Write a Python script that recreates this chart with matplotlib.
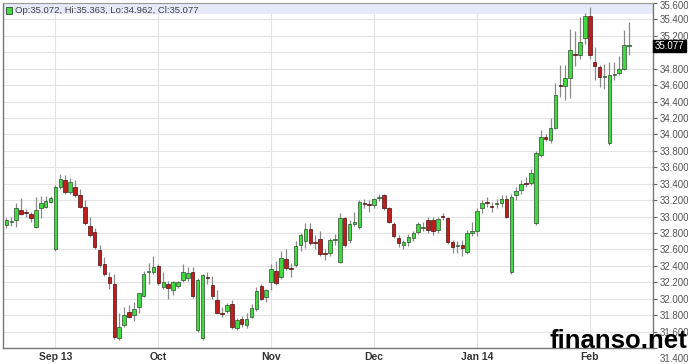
import numpy as np
import matplotlib
matplotlib.use("Agg")
import matplotlib.pyplot as plt
from matplotlib.patches import Rectangle
from matplotlib.transforms import blended_transform_factory, ScaledTranslation

plt.rcParams["font.family"] = ["Liberation Sans", "DejaVu Sans"]

# daily candles, mid Aug 2013 .. mid Feb 2014
opens = [32.90, 32.94, 32.96, 33.08, 33.05, 33.03, 32.87, 33.10, 33.12, 33.18,
         32.60, 33.36, 33.44, 33.30, 33.36, 33.26, 33.12, 32.88, 32.81, 32.59,
         32.42, 32.27, 32.18, 31.52, 31.68, 31.84, 31.80, 31.90, 32.03, 32.32,
         32.32, 32.40, 32.14, 32.18, 32.10, 32.15, 32.23, 32.25, 32.32, 31.62,
         31.52, 32.26, 32.17, 31.99, 31.82, 31.85, 31.93, 31.64, 31.75, 31.68,
         31.78, 31.87, 32.15, 32.02, 32.20, 32.34, 32.26, 32.48, 32.37, 32.41,
         32.65, 32.70, 32.85, 32.69, 32.73, 32.55, 32.56, 32.71, 32.45, 32.98,
         32.71, 32.91, 32.87, 33.16, 33.15, 33.14, 33.23, 33.26, 33.10, 32.91,
         32.74, 32.65, 32.69, 32.74, 32.81, 32.86, 32.96, 32.96, 32.84, 33.00,
         32.98, 32.69, 32.64, 32.66, 32.57, 32.80, 32.82, 33.10, 33.18, 33.13,
         33.15, 33.16, 33.21, 32.32, 33.26, 33.32, 33.41, 33.41, 32.92, 33.75,
         33.97, 33.93, 34.08, 34.60, 34.59, 34.69, 34.98, 34.97, 35.17, 35.44,
         34.88, 34.82, 34.70, 33.89, 34.72, 34.75, 34.80, 35.072]
highs = [32.98, 33.00, 33.16, 33.23, 33.09, 33.06, 33.24, 33.25, 33.25, 33.25,
         33.38, 33.52, 33.50, 33.47, 33.44, 33.33, 33.20, 33.00, 32.86, 32.66,
         32.51, 32.32, 32.30, 31.82, 31.90, 31.92, 31.96, 32.07, 32.34, 32.44,
         32.52, 32.42, 32.32, 32.22, 32.22, 32.22, 32.42, 32.38, 32.39, 32.25,
         32.30, 32.32, 32.28, 32.10, 31.90, 31.95, 31.98, 31.77, 31.79, 31.82,
         31.94, 32.14, 32.18, 32.12, 32.42, 32.46, 32.58, 32.60, 32.44, 32.70,
         32.80, 32.92, 32.92, 32.78, 32.82, 32.61, 32.74, 32.79, 33.04, 33.00,
         32.96, 33.06, 33.20, 33.21, 33.20, 33.23, 33.27, 33.28, 33.12, 32.94,
         32.78, 32.71, 32.79, 32.83, 32.94, 32.93, 33.00, 32.99, 33.00, 33.04,
         33.00, 32.72, 32.70, 32.72, 32.84, 32.94, 33.10, 33.20, 33.24, 33.18,
         33.22, 33.26, 33.26, 33.28, 33.36, 33.45, 33.48, 33.58, 33.80, 34.05,
         34.00, 34.20, 34.63, 34.84, 34.84, 35.28, 35.26, 35.43, 35.48, 35.55,
         35.06, 34.85, 34.86, 34.88, 34.88, 34.96, 35.27, 35.363]
lows = [32.86, 32.88, 32.87, 33.02, 33.00, 32.94, 32.86, 32.98, 33.10, 33.16,
        32.58, 33.34, 33.28, 33.28, 33.24, 33.10, 32.90, 32.75, 32.60, 32.39,
        32.28, 32.12, 31.51, 31.50, 31.66, 31.76, 31.73, 31.83, 32.02, 32.18,
        32.30, 32.17, 32.12, 32.00, 32.04, 32.13, 32.20, 32.22, 32.01, 31.60,
        31.50, 32.18, 32.00, 31.82, 31.78, 31.83, 31.63, 31.62, 31.66, 31.64,
        31.76, 31.85, 31.98, 31.96, 32.10, 32.17, 32.24, 32.35, 32.26, 32.39,
        32.58, 32.62, 32.66, 32.60, 32.52, 32.47, 32.52, 32.66, 32.44, 32.63,
        32.68, 32.88, 32.85, 33.10, 33.06, 33.10, 33.19, 33.08, 32.92, 32.74,
        32.63, 32.60, 32.64, 32.70, 32.79, 32.82, 32.80, 32.78, 32.80, 32.96,
        32.67, 32.56, 32.56, 32.52, 32.55, 32.76, 32.76, 33.04, 33.12, 33.06,
        33.10, 33.12, 32.98, 32.30, 33.20, 33.28, 33.36, 33.38, 32.90, 33.72,
        33.92, 33.90, 34.06, 34.45, 34.42, 34.44, 34.83, 34.92, 35.10, 34.92,
        34.66, 34.58, 34.55, 33.87, 34.66, 34.72, 34.78, 34.962]
closes = [32.96, 32.95, 33.10, 33.03, 33.04, 32.98, 33.08, 33.16, 33.19, 33.23,
          33.36, 33.46, 33.30, 33.42, 33.26, 33.12, 32.92, 32.77, 32.63, 32.41,
          32.30, 32.19, 31.53, 31.65, 31.80, 31.78, 31.88, 32.07, 32.30, 32.32,
          32.38, 32.19, 32.20, 32.13, 32.20, 32.20, 32.32, 32.31, 32.03, 32.23,
          32.29, 32.25, 32.03, 31.83, 31.81, 31.92, 31.65, 31.74, 31.69, 31.75,
          31.89, 32.10, 32.00, 32.10, 32.36, 32.19, 32.50, 32.37, 32.36, 32.64,
          32.78, 32.85, 32.68, 32.68, 32.55, 32.54, 32.71, 32.72, 32.98, 32.65,
          32.91, 32.93, 33.18, 33.15, 33.14, 33.21, 33.24, 33.10, 32.94, 32.76,
          32.68, 32.69, 32.75, 32.80, 32.91, 32.87, 32.84, 32.82, 32.97, 32.99,
          32.69, 32.63, 32.65, 32.62, 32.80, 32.82, 33.07, 33.16, 33.17, 33.12,
          33.17, 33.21, 32.99, 33.24, 33.31, 33.40, 33.40, 33.53, 33.77, 33.97,
          33.94, 34.08, 34.48, 34.59, 34.69, 35.03, 34.97, 35.13, 35.44, 34.97,
          34.83, 34.70, 34.70, 34.72, 34.73, 34.80, 35.09, 35.077]

month_labels = ["Sep 13", "Oct", "Nov", "Dec", "Jan 14", "Feb"]
month_pos = [10, 31, 54, 75, 96, 119]
y_ticks = np.round(np.arange(31.4, 35.61, 0.2), 1)

o = np.array(opens)
h = np.array(highs)
l = np.array(lows)
c = np.array(closes)
x = np.arange(len(o))

fig = plt.figure(figsize=(6.88, 3.64), dpi=100)
ax = fig.add_axes([3 / 688, 16 / 364, 650 / 688, 345 / 364])

up = c >= o
body_lo = np.minimum(o, c)
body_h = np.maximum(np.abs(c - o), 0.012)

ax.vlines(x, l, h, color="#8a8a8a", lw=0.9, zorder=2)
ax.bar(x[up], body_h[up], bottom=body_lo[up], width=0.72,
       color="#44d744", edgecolor="#2b4f2b", lw=0.5, zorder=3)
ax.bar(x[~up], body_h[~up], bottom=body_lo[~up], width=0.72,
       color="#be1e1e", edgecolor="#4a1010", lw=0.5, zorder=3)

ax.set_xlim(-0.7, 131.9)
ax.set_ylim(31.4, 35.6)

# grid
ax.set_yticks(y_ticks)
ylabels = ["%.3f" % v for v in y_ticks]
ylabels[list(y_ticks).index(35.0)] = ""
ax.set_yticklabels(ylabels)
ax.set_xticks(month_pos)
ax.set_xticklabels(month_labels, fontweight="bold")
ax.grid(True, color="#e3e3e3", lw=0.8, zorder=0)
ax.set_axisbelow(True)

ax.yaxis.tick_right()
ax.tick_params(axis="y", length=3, width=0.8, color="#666", labelsize=7,
               labelcolor="#555", pad=1.5)
ax.tick_params(axis="x", length=0, labelsize=7.5, labelcolor="#333", pad=3)
for side in ["left", "bottom", "right"]:
    ax.spines[side].set_color("#777")
    ax.spines[side].set_linewidth(1.0)
ax.spines["top"].set_color("#999")

# end labels are nudged so they stay inside the picture
lab0 = ax.get_yticklabels()[0]
lab0.set_transform(lab0.get_transform() + ScaledTranslation(0, -7 / 72, fig.dpi_scale_trans))
labtop = ax.get_yticklabels()[-1]
labtop.set_transform(labtop.get_transform() + ScaledTranslation(0, -1.5 / 72, fig.dpi_scale_trans))

# header strip with the last candle
ax.axhspan(35.465, 35.6, color="#e7e9fb", zorder=1, lw=0)
ax.add_patch(Rectangle((0.004, 0.968), 0.010, 0.021, transform=ax.transAxes,
                       facecolor="#44d744", edgecolor="#2b4f2b", lw=0.6, zorder=5))
ax.text(0.019, 0.978, "Op:%.3f, Hi:%.3f, Lo:%.3f, Cl:%.3f" % (o[-1], h[-1], l[-1], c[-1]),
        transform=ax.transAxes, fontsize=6.8, color="#444", va="center", zorder=5)

# last price flag on the axis
tr = blended_transform_factory(ax.transAxes, ax.transData)
ax.text(1.003, c[-1], "%.3f" % c[-1], transform=tr, fontsize=7, color="white",
        va="center", ha="left", zorder=6, clip_on=False,
        bbox=dict(boxstyle="square,pad=0.15", fc="black", ec="black"))

fig.text(0.999, 0.045, "finanso.net", ha="right", va="baseline", fontsize=18.5,
         fontweight="bold", color="black", zorder=10)

fig.savefig("out.png", dpi=100)
